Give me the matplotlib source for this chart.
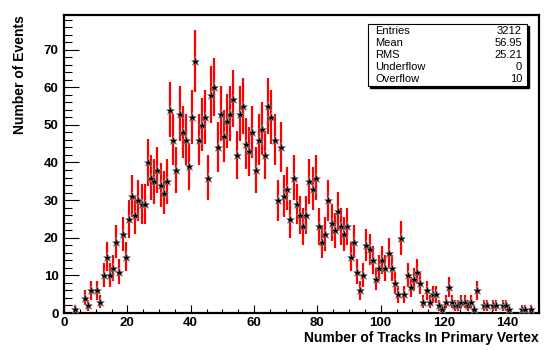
import numpy as np
import matplotlib
matplotlib.use("Agg")
import matplotlib.pyplot as plt
from matplotlib.patches import Rectangle
from matplotlib.ticker import MultipleLocator

# histogram: 150 bins of width 1 from 0 to 150
bin_edges_lo = 0
bin_width = 1
counts = [
    0, 0, 0, 1, 0, 0, 4, 2, 6, 0,
    6, 3, 10, 15, 10, 12, 19, 11, 21, 15,
    25, 31, 26, 30, 29, 29, 40, 36, 35, 38,
    34, 32, 35, 54, 46, 38, 53, 48, 46, 39,
    52, 67, 46, 50, 52, 36, 58, 60, 44, 53,
    47, 51, 53, 57, 42, 53, 55, 45, 43, 48,
    38, 46, 49, 42, 55, 52, 46, 30, 44, 31,
    33, 25, 36, 29, 26, 23, 26, 35, 33, 36,
    23, 19, 21, 30, 24, 22, 27, 23, 21, 23,
    15, 19, 11, 6, 10, 18, 17, 14, 9, 12,
    14, 12, 16, 12, 8, 5, 20, 5, 10, 7,
    9, 11, 8, 3, 6, 3, 5, 5, 2, 1,
    3, 7, 3, 2, 2, 3, 3, 2, 3, 1,
    6, 0, 2, 2, 0, 2, 2, 0, 2, 2,
    1, 0, 0, 0, 1, 1, 0, 1, 0, 0,
]
stat_names = ["Entries", "Mean", "RMS", "Underflow", "Overflow"]
stat_values = ["3212", "56.95", "25.21", "0", "10"]

counts = np.array(counts, dtype=float)
centers = bin_edges_lo + (np.arange(len(counts)) + 0.5) * bin_width
keep = counts > 0
x = centers[keep]
y = counts[keep]
err = np.sqrt(y)

FONT = "Liberation Sans"
plt.rcParams["font.family"] = FONT

fig = plt.figure(figsize=(5.47, 3.5), dpi=100)
ax = fig.add_axes([64/547, 1-313/350, 475/547, 298/350])

ax.errorbar(x, y, yerr=err, fmt="none", ecolor="#ff0000", elinewidth=1.6, capsize=0, zorder=2)
ax.plot(x, y, ls="none", marker="*", ms=6.5, mfc="black", mec="#999999", mew=0.4, zorder=3)

ax.set_xlim(0, 150)
ax.set_ylim(0, 79.2)
ax.xaxis.set_major_locator(MultipleLocator(20))
ax.xaxis.set_minor_locator(MultipleLocator(5))
ax.yaxis.set_major_locator(MultipleLocator(10))
ax.yaxis.set_minor_locator(MultipleLocator(2))

ax.tick_params(axis="x", which="major", direction="in", length=6, width=0.8, pad=3, labelsize=9.5)
ax.tick_params(axis="x", which="minor", direction="in", length=3, width=0.8)
ax.tick_params(axis="y", which="major", direction="in", length=10.5, width=0.8, pad=4, labelsize=9.5)
ax.tick_params(axis="y", which="minor", direction="in", length=5.5, width=0.8)
for lab in ax.get_xticklabels() + ax.get_yticklabels():
    lab.set_fontweight("bold")
for s in ax.spines.values():
    s.set_linewidth(1.6)

fig.text(0.985, 1-338/350, "Number of Tracks In Primary Vertex", ha="right", va="center",
         fontsize=10, fontweight="bold")
fig.text(20/547, 1-15/350, "Number of Events", rotation=90, ha="center", va="top",
         fontsize=10, fontweight="bold")

# stats box with shadow
bx0, by0, bw, bh = 368/547, 1-86/350, 159/547, 62/350
fig.patches.append(Rectangle((bx0 + 2/547, by0 - 2/350), bw, bh, transform=fig.transFigure,
                             facecolor="black", edgecolor="black", zorder=5))
fig.patches.append(Rectangle((bx0, by0), bw, bh, transform=fig.transFigure,
                             facecolor="white", edgecolor="black", lw=0.8, zorder=6))
rows_y = [31, 42.5, 55, 67, 79]
for name, val, ry in zip(stat_names, stat_values, rows_y):
    fig.text(375/547, 1-ry/350, name, ha="left", va="center", fontsize=8, zorder=7)
    fig.text(522/547, 1-ry/350, val, ha="right", va="center", fontsize=8, zorder=7)

fig.savefig("out.png", dpi=100)
